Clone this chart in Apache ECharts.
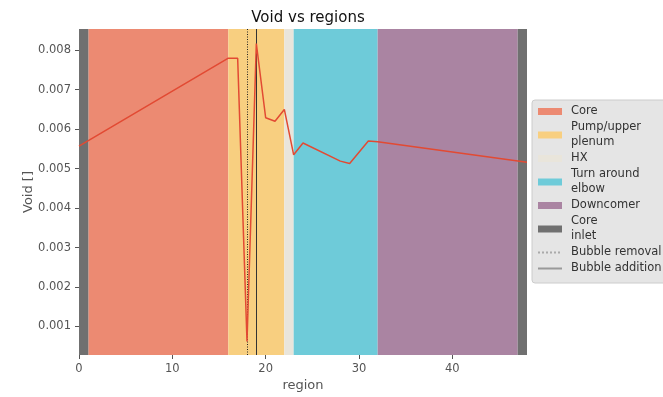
<!DOCTYPE html>
<html>
<head>
<meta charset="utf-8">
<script src="https://cdn.jsdelivr.net/npm/echarts@6/dist/echarts.min.js"></script>
<style>
  html, body { margin: 0; padding: 0; background: #fff; }
  #chart { width: 663px; height: 397px; }
</style>
</head>
<body>
<div id="chart"></div>
<script>
// Void fraction along the loop, sampled at region indices
const regionX = [0, 16, 17, 18, 19, 20, 21, 22, 23, 24, 28, 29, 31, 32, 48];
const voidValues = [0.00557, 0.00780, 0.00780, 0.00062, 0.00817, 0.00629, 0.00620, 0.00650, 0.00535, 0.00565, 0.00519, 0.00513, 0.00570, 0.00568, 0.00516];

// Loop sections with their index spans
const sections = [
  { name: 'Core', spans: [[1, 16]], color: '#EC8A72' },
  { name: 'Pump/upper\nplenum', spans: [[16, 22]], color: '#F8CF80' },
  { name: 'HX', spans: [[22, 23]], color: '#E9E5DB' },
  { name: 'Turn around\nelbow', spans: [[23, 32]], color: '#6ECBD9' },
  { name: 'Downcomer', spans: [[32, 47]], color: '#AA84A2' },
  { name: 'Core\ninlet', spans: [[0, 1], [47, 48]], color: '#707070' }
];

// Bubble removal / addition positions
const bubbleRemovalX = 18;
const bubbleAdditionX = 19;

const yTicks = [0.001, 0.002, 0.003, 0.004, 0.005, 0.006, 0.007, 0.008];
const xTicks = [0, 10, 20, 30, 40];

const chart = echarts.init(document.getElementById('chart'));

const series = sections.map(s => ({
  name: s.name,
  type: 'line',
  data: [],
  symbol: 'none',
  itemStyle: { color: s.color },
  lineStyle: { color: s.color },
  silent: true,
  z: 1,
  markArea: {
    silent: true,
    itemStyle: { color: s.color, opacity: 1 },
    data: s.spans.map(sp => [{ xAxis: sp[0] }, { xAxis: sp[1] }])
  }
}));

series.push({
  name: 'void',
  type: 'line',
  data: regionX.map((x, i) => [x, voidValues[i]]),
  symbol: 'none',
  lineStyle: { color: '#E24A33', width: 1.5 },
  z: 5
});

series.push({
  name: 'Bubble removal',
  type: 'line',
  data: [],
  symbol: 'none',
  itemStyle: { color: '#aaaaaa' },
  lineStyle: { color: '#aaaaaa', type: 'dotted', width: 1 },
  z: 6,
  markLine: {
    silent: true,
    symbol: 'none',
    label: { show: false },
    lineStyle: { color: '#222', type: [1, 1.5], width: 1 },
    data: [{ xAxis: bubbleRemovalX }]
  }
});

series.push({
  name: 'Bubble addition',
  type: 'line',
  data: [],
  symbol: 'none',
  itemStyle: { color: '#999999' },
  lineStyle: { color: '#999999', type: 'solid', width: 1 },
  z: 6,
  markLine: {
    silent: true,
    symbol: 'none',
    label: { show: false },
    lineStyle: { color: '#333', type: 'solid', width: 1 },
    data: [{ xAxis: bubbleAdditionX }]
  }
});

// Line entries show only the stroke, no marker
const hiddenMarker = { color: 'rgba(0,0,0,0)', borderColor: 'rgba(0,0,0,0)', borderWidth: 0 };
const legendData = sections.map(s => ({ name: s.name, icon: 'rect' }))
  .concat([
    { name: 'Bubble removal', itemStyle: hiddenMarker },
    { name: 'Bubble addition', itemStyle: hiddenMarker }
  ]);

chart.setOption({
  animation: false,
  backgroundColor: '#ffffff',
  title: {
    text: 'Void vs regions',
    left: 303,
    textAlign: 'center',
    top: 6,
    textStyle: { fontFamily: 'DejaVu Sans', fontSize: 15, fontWeight: 'normal', color: '#111' }
  },
  grid: { left: 79, right: 136, top: 29, bottom: 42 },
  legend: {
    data: legendData,
    orient: 'vertical',
    left: 532,
    top: 100,
    backgroundColor: '#E5E5E5',
    borderColor: '#cccccc',
    borderWidth: 1,
    borderRadius: 3,
    padding: [4, 12, 7, 5],
    itemWidth: 24,
    itemHeight: 7,
    itemGap: 1,
    selectedMode: false,
    textStyle: {
      fontFamily: 'DejaVu Sans',
      fontSize: 11.5,
      color: '#333',
      lineHeight: 15,
      padding: [0, 0, 0, 4]
    }
  },
  xAxis: {
    type: 'value',
    min: 0,
    max: 48,
    interval: 10,
    name: 'region',
    nameLocation: 'middle',
    nameGap: 24,
    nameMoveOverlap: false,
    nameTextStyle: { fontFamily: 'DejaVu Sans', fontSize: 13, color: '#555' },
    axisLine: { show: false },
    axisTick: { show: true, length: 4, lineStyle: { color: '#555' }, customValues: xTicks },
    axisLabel: { fontFamily: 'DejaVu Sans', fontSize: 11.5, color: '#555', margin: 8, customValues: xTicks },
    splitLine: { show: false }
  },
  yAxis: {
    type: 'value',
    min: 0.000275,
    max: 0.00854,
    name: 'Void []',
    nameLocation: 'middle',
    nameGap: 44,
    nameMoveOverlap: false,
    nameTextStyle: { fontFamily: 'DejaVu Sans', fontSize: 13, color: '#555' },
    axisLine: { show: false },
    axisTick: { show: true, length: 4, lineStyle: { color: '#555' }, customValues: yTicks },
    axisLabel: {
      fontFamily: 'DejaVu Sans', fontSize: 11.5, color: '#555', margin: 8,
      customValues: yTicks,
      formatter: v => v.toFixed(3)
    },
    splitLine: { show: false }
  },
  series: series
});
</script>
</body>
</html>
